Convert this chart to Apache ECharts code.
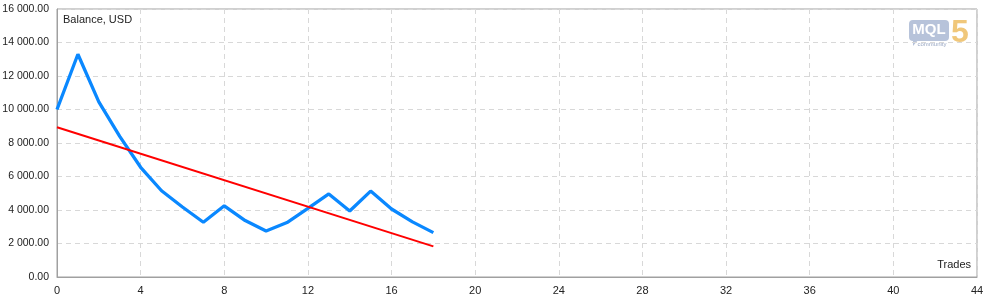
<!DOCTYPE html>
<html>
<head>
<meta charset="utf-8">
<script src="https://cdn.jsdelivr.net/npm/echarts@6/dist/echarts.min.js"></script>
<style>
html,body{margin:0;padding:0;background:#fff;}
#c{width:995px;height:304px;}
</style>
</head>
<body>
<div id="c"></div>
<script>
const trades = [0,1,2,3,4,5,6,7,8,9,10,11,12,13,14,15,16,17,18];
const balance = [10000,13300,10450,8400,6550,5150,4180,3270,4250,3370,2750,3250,4100,4960,3940,5130,4060,3290,2650];
const trendX = [0,18];
const trendY = [8940,1830];
const xTicks = [0,4,8,12,16,20,24,28,32,36,40,44];
const yTicks = [0,2000,4000,6000,8000,10000,12000,14000,16000];

function fmt(v){
  const s = Math.round(v).toString();
  const withSp = s.replace(/\B(?=(\d{3})+(?!\d))/g,' ');
  return withSp + '.00';
}

const chart = echarts.init(document.getElementById('c'));
const font = 'Tahoma, "Liberation Sans", "DejaVu Sans", sans-serif';
chart.setOption({
  animation:false,
  backgroundColor:'#ffffff',
  grid:{left:57,right:18,top:9,bottom:27,show:true,borderColor:'#a0a0a0',borderWidth:1,
        containLabel:false,outerBoundsMode:'none'},
  xAxis:{
    type:'value',min:xTicks[0],max:xTicks[xTicks.length-1],interval:4,
    axisLine:{show:true,lineStyle:{color:'#a0a0a0'}},
    axisTick:{show:false},
    axisLabel:{color:'#222',fontFamily:font,fontSize:11,margin:8,
      formatter:v=>xTicks.includes(v)?String(v):''},
    splitLine:{show:true,lineStyle:{color:'#d8d8d8',type:[5,4],width:1}}
  },
  yAxis:{
    type:'value',min:yTicks[0],max:yTicks[yTicks.length-1],interval:2000,
    axisLine:{show:true,lineStyle:{color:'#a0a0a0'}},
    axisTick:{show:false},
    axisLabel:{color:'#222',fontFamily:font,fontSize:10.5,margin:8,formatter:v=>fmt(v)},
    splitLine:{show:true,lineStyle:{color:'#d8d8d8',type:[5,4],width:1}}
  },
  graphic:[
    {type:'text',left:63,top:14,style:{text:'Balance, USD',fill:'#222',font:'11px '+font}},
    {type:'text',right:24,top:259,style:{text:'Trades',fill:'#222',font:'11px '+font}},
    {type:'group',left:909,top:17,children:[
      {type:'rect',shape:{x:0,y:0,width:40,height:21,r:4},style:{fill:'#b7c3da'}},
      {type:'polygon',shape:{points:[[4,19],[10,19],[4,26]]},style:{fill:'#b7c3da'}},
      {type:'text',x:20,y:10,style:{text:'MQL',fill:'#ffffff',font:'bold 15px '+font,align:'center',verticalAlign:'middle'}},
      {type:'text',x:23,y:24,style:{text:'community',fill:'#9aa8c4',font:'6px '+font,align:'center',verticalAlign:'middle'}},
      {type:'text',x:42,y:-3,style:{text:'5',fill:'#f0c77a',font:'bold 32px '+font}}
    ]}
  ],
  series:[
    {type:'line',data:trades.map((t,i)=>[t,balance[i]]),showSymbol:false,
     lineStyle:{color:'#0a88ff',width:3.3},z:3},
    {type:'line',data:trendX.map((t,i)=>[t,trendY[i]]),showSymbol:false,
     lineStyle:{color:'#ff0000',width:2},z:4}
  ]
});
</script>
</body>
</html>
